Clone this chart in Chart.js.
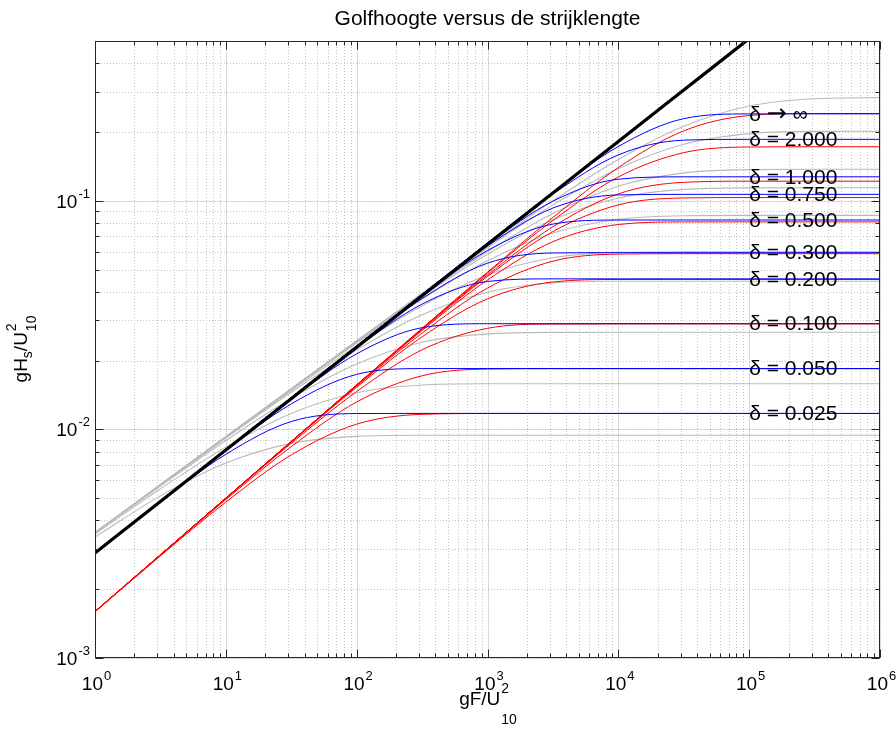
<!DOCTYPE html>
<html>
<head>
<meta charset="utf-8">
<script src="https://cdn.jsdelivr.net/npm/chart.js@4.4.1/dist/chart.umd.min.js"></script>
<style>
  body { margin: 0; background: #fff; }
  canvas { display: block; }
</style>
</head>
<body>
<canvas id="golfChart" width="896" height="733"></canvas>
<script>
// dimensionless fetch gF/U10^2 (half-decade steps)
const fetchX = [1, 3.162, 10, 31.62, 100, 316.2, 1000, 3162, 10000, 31620, 100000, 316200, 1000000];

const deltaLabels = ["δ → ∞", "δ = 2.000", "δ = 1.000", "δ = 0.750", "δ = 0.500",
  "δ = 0.300", "δ = 0.200", "δ = 0.100", "δ = 0.050", "δ = 0.025"];

// black line (deep water, straight)
const heightKahma = [0.00288, 0.00484, 0.00812, 0.01363, 0.02288, 0.0384, 0.0645, 0.1082, 0.1817, 0.305, 0.512, 0.860, 1.443];

// blue curves, one row per delta
const heightBreugem = [
  [0.00289, 0.00486, 0.00818, 0.01377, 0.02317, 0.03897, 0.06545, 0.1090, 0.1728, 0.2287, 0.2399, 0.2400, 0.2400],
  [0.00289, 0.00486, 0.00818, 0.01377, 0.02316, 0.03895, 0.06526, 0.1070, 0.1588, 0.1842, 0.1857, 0.1857, 0.1857],
  [0.00289, 0.00486, 0.00818, 0.01377, 0.02315, 0.03886, 0.0644, 0.0996, 0.1243, 0.1273, 0.1273, 0.1273, 0.1273],
  [0.00289, 0.00486, 0.00818, 0.01377, 0.02314, 0.03876, 0.06343, 0.09295, 0.1061, 0.1067, 0.1067, 0.1067, 0.1067],
  [0.00289, 0.00486, 0.00818, 0.01376, 0.02311, 0.03845, 0.06062, 0.07908, 0.08238, 0.0824, 0.0824, 0.0824, 0.0824],
  [0.00289, 0.00486, 0.00818, 0.01375, 0.02300, 0.03738, 0.05335, 0.05912, 0.0593, 0.0593, 0.0593, 0.0593, 0.0593],
  [0.00289, 0.00486, 0.00818, 0.01373, 0.02276, 0.03533, 0.04437, 0.04555, 0.04555, 0.04555, 0.04555, 0.04555, 0.04555],
  [0.00289, 0.00486, 0.00816, 0.01358, 0.02141, 0.02786, 0.02899, 0.0290, 0.0290, 0.0290, 0.0290, 0.0290, 0.0290],
  [0.00289, 0.004854, 0.008093, 0.012923, 0.01741, 0.018447, 0.01846, 0.01846, 0.01846, 0.01846, 0.01846, 0.01846, 0.01846],
  [0.002886, 0.004821, 0.00778, 0.010826, 0.011731, 0.01175, 0.01175, 0.01175, 0.01175, 0.01175, 0.01175, 0.01175, 0.01175]
];

// red curves
const heightYoung = [
  [0.001597, 0.002827, 0.005004, 0.008856, 0.015669, 0.027692, 0.04875, 0.08454, 0.13976, 0.20227, 0.23607, 0.24092, 0.241],
  [0.001597, 0.002827, 0.005004, 0.008854, 0.015659, 0.027628, 0.0483, 0.08202, 0.12713, 0.16241, 0.17187, 0.17231, 0.17231],
  [0.001597, 0.002827, 0.005003, 0.008851, 0.015636, 0.027484, 0.04739, 0.07699, 0.10722, 0.12047, 0.12183, 0.12184, 0.12184],
  [0.001597, 0.002827, 0.005003, 0.008848, 0.015618, 0.027364, 0.04667, 0.07336, 0.09594, 0.10289, 0.1033, 0.1033, 0.1033],
  [0.001597, 0.002827, 0.005002, 0.008841, 0.015573, 0.027082, 0.04503, 0.06625, 0.07875, 0.08082, 0.08086, 0.08086, 0.08086],
  [0.001597, 0.002826, 0.004999, 0.008824, 0.015463, 0.02638, 0.04152, 0.05443, 0.05846, 0.0587, 0.0587, 0.0587, 0.0587],
  [0.001597, 0.002826, 0.004995, 0.008797, 0.01529, 0.0254, 0.03726, 0.04415, 0.04526, 0.04528, 0.04528, 0.04528, 0.04528],
  [0.001596, 0.002823, 0.004979, 0.008692, 0.01465, 0.02229, 0.02768, 0.02889, 0.02893, 0.02893, 0.02893, 0.02893, 0.02893],
  [0.001595, 0.002816, 0.004933, 0.008406, 0.013181, 0.017165, 0.018363, 0.01843, 0.01843, 0.01843, 0.01843, 0.01843, 0.01843],
  [0.001592, 0.002796, 0.004808, 0.00773, 0.010541, 0.011639, 0.011733, 0.011733, 0.011733, 0.011733, 0.011733, 0.011733, 0.011733]
];

// grey curves
const heightSPM = [
  [0.003537, 0.005736, 0.009302, 0.015076, 0.024413, 0.039432, 0.063283, 0.099913, 0.15164, 0.21192, 0.25968, 0.27958, 0.28286],
  [0.003537, 0.005735, 0.009298, 0.015062, 0.024354, 0.039184, 0.062271, 0.095961, 0.13822, 0.17672, 0.19672, 0.2012, 0.20151],
  [0.003537, 0.005734, 0.009291, 0.01503, 0.024218, 0.038621, 0.06004, 0.08806, 0.11584, 0.13241, 0.13694, 0.13735, 0.13736],
  [0.003536, 0.005732, 0.009284, 0.015003, 0.024105, 0.038161, 0.058307, 0.082533, 0.102896, 0.1122, 0.11394, 0.11403, 0.11403],
  [0.003536, 0.005729, 0.009269, 0.01494, 0.02384, 0.037114, 0.054612, 0.072222, 0.082995, 0.086051, 0.08634, 0.08635, 0.08635],
  [0.003533, 0.00572, 0.00923, 0.014778, 0.023194, 0.034744, 0.047384, 0.056324, 0.059462, 0.059867, 0.05988, 0.05988, 0.05988],
  [0.00353, 0.005706, 0.009172, 0.014538, 0.022272, 0.031696, 0.039822, 0.043683, 0.044446, 0.04449, 0.04449, 0.04449, 0.04449],
  [0.003517, 0.00565, 0.008942, 0.013655, 0.019308, 0.024035, 0.026177, 0.026573, 0.026594, 0.026594, 0.026594, 0.026594, 0.026594],
  [0.00348, 0.005499, 0.008364, 0.011738, 0.014463, 0.015633, 0.015834, 0.015843, 0.015843, 0.015843, 0.015843, 0.015843, 0.015843],
  [0.00338, 0.00512, 0.007127, 0.008689, 0.009322, 0.009422, 0.009426, 0.009426, 0.009426, 0.009426, 0.009426, 0.009426, 0.009426]
];

const labelAtX = 100000;
const xRange = [1, 1000000];
const yRange = [0.001, 0.5];

const FONT = "'Liberation Sans', Arial, Helvetica, sans-serif";

function toPoints(ys) {
  return fetchX.map((x, i) => ({ x: x, y: ys[i] }));
}

function curve(label, ys, color, width) {
  return {
    label: label,
    data: toPoints(ys),
    borderColor: color,
    borderWidth: width,
    pointRadius: 0,
    fill: false,
    cubicInterpolationMode: "monotone"
  };
}

// dataset 0 is painted last (on top)
const datasets = [curve("Kahma", heightKahma, "#000000", 3.2)];
heightBreugem.forEach((ys, i) => datasets.push(curve("blauw " + deltaLabels[i], ys, "#0000ff", 1)));
heightYoung.forEach((ys, i) => datasets.push(curve("rood " + deltaLabels[i], ys, "#ff0000", 1)));
heightSPM.forEach((ys, i) => datasets.push(curve("grijs " + deltaLabels[i], ys, "#bababa", 1.1)));

function decadeValues(lo, hi) {
  const out = [];
  for (let e = Math.round(Math.log10(lo)); e < Math.round(Math.log10(hi)) + 1; e++) {
    for (let m = 1; m <= 9; m++) {
      const v = m * Math.pow(10, e);
      if (v >= lo * 0.999 && v <= hi * 1.001) out.push({ v: v, major: m === 1, e: e });
    }
  }
  return out;
}

function drawPower(ctx, exp, x, y, align) {
  ctx.font = "19px " + FONT;
  const wBase = ctx.measureText("10").width;
  ctx.font = "13px " + FONT;
  const wExp = ctx.measureText(String(exp)).width;
  let start = x;
  if (align === "center") start = x - (wBase + wExp) / 2;
  if (align === "right") start = x - wBase - wExp;
  ctx.textAlign = "left";
  ctx.textBaseline = "alphabetic";
  ctx.font = "19px " + FONT;
  ctx.fillText("10", start, y);
  ctx.font = "13px " + FONT;
  ctx.fillText(String(exp), start + wBase + 1, y - 10);
}

// draws "δ → ∞" with a longer arrow glyph
function drawDeltaLabel(ctx, lab, x, y) {
  if (lab.indexOf("→") < 0) {
    ctx.fillText(lab, x, y);
    return;
  }
  const parts = lab.split("→");
  ctx.fillText(parts[0], x, y);
  let px = x + ctx.measureText(parts[0]).width;
  const keep = ctx.font;
  ctx.font = "24px 'DejaVu Sans', sans-serif";
  ctx.fillText("→", px, y);
  px += ctx.measureText("→").width;
  ctx.font = keep;
  ctx.fillText(parts[1], px, y);
}

const decor = {
  id: "decor",
  beforeDatasetsDraw(chart) {
    const { ctx, chartArea: a, scales } = chart;
    ctx.save();
    ctx.lineWidth = 1;
    decadeValues(xRange[0], xRange[1]).forEach(t => {
      const px = Math.round(scales.x.getPixelForValue(t.v)) + 0.5;
      if (t.major) {
        ctx.strokeStyle = "#e2e2e2";
        ctx.setLineDash([]);
        ctx.beginPath(); ctx.moveTo(px, a.top); ctx.lineTo(px, a.bottom); ctx.stroke();
      }
      ctx.strokeStyle = "#c4c4c4";
      ctx.setLineDash([1, 2]);
      ctx.beginPath(); ctx.moveTo(px, a.top); ctx.lineTo(px, a.bottom); ctx.stroke();
    });
    decadeValues(yRange[0], yRange[1]).forEach(t => {
      const py = Math.round(scales.y.getPixelForValue(t.v)) + 0.5;
      if (t.major) {
        ctx.strokeStyle = "#e2e2e2";
        ctx.setLineDash([]);
        ctx.beginPath(); ctx.moveTo(a.left, py); ctx.lineTo(a.right, py); ctx.stroke();
      }
      ctx.strokeStyle = "#c4c4c4";
      ctx.setLineDash([1, 2]);
      ctx.beginPath(); ctx.moveTo(a.left, py); ctx.lineTo(a.right, py); ctx.stroke();
    });
    ctx.restore();
  },
  afterDatasetsDraw(chart) {
    const { ctx, chartArea: a, scales } = chart;
    ctx.save();
    ctx.setLineDash([]);

    // delta labels on the blue plateaus
    ctx.fillStyle = "#000";
    ctx.font = "21px " + FONT;
    ctx.textAlign = "left";
    ctx.textBaseline = "middle";
    deltaLabels.forEach((lab, i) => {
      const row = heightBreugem[i];
      drawDeltaLabel(ctx, lab, scales.x.getPixelForValue(labelAtX), scales.y.getPixelForValue(row[row.length - 1]) + 1);
    });

    // box and inward ticks
    ctx.strokeStyle = "#262626";
    ctx.lineWidth = 1;
    const L = Math.round(a.left) + 0.5, R = Math.round(a.right) - 0.5;
    const T = Math.round(a.top) + 0.5, B = Math.round(a.bottom) - 0.5;
    ctx.strokeRect(L, T, R - L, B - T);
    ctx.beginPath();
    decadeValues(xRange[0], xRange[1]).forEach(t => {
      const px = Math.round(scales.x.getPixelForValue(t.v)) + 0.5;
      const len = t.major ? 8 : 4;
      ctx.moveTo(px, B); ctx.lineTo(px, B - len);
      ctx.moveTo(px, T); ctx.lineTo(px, T + len);
    });
    decadeValues(yRange[0], yRange[1]).forEach(t => {
      const py = Math.round(scales.y.getPixelForValue(t.v)) + 0.5;
      const len = t.major ? 8 : 4;
      ctx.moveTo(L, py); ctx.lineTo(L + len, py);
      ctx.moveTo(R, py); ctx.lineTo(R - len, py);
    });
    ctx.stroke();

    // tick labels
    ctx.fillStyle = "#000";
    decadeValues(xRange[0], xRange[1]).filter(t => t.major).forEach(t => {
      drawPower(ctx, t.e, scales.x.getPixelForValue(t.v) + 1, a.bottom + 32, "center");
    });
    decadeValues(yRange[0], yRange[1]).filter(t => t.major).forEach(t => {
      drawPower(ctx, t.e, a.left - 6, scales.y.getPixelForValue(t.v) + 7, "right");
    });

    // title
    const cx = (a.left + a.right) / 2;
    ctx.font = "21px " + FONT;
    ctx.textAlign = "center";
    ctx.textBaseline = "alphabetic";
    ctx.fillText("Golfhoogte versus de strijklengte", cx, 25);

    // x axis title: gF/U^2_10
    ctx.font = "19px " + FONT;
    const wMain = ctx.measureText("gF/U").width;
    ctx.font = "14px " + FONT;
    const wSub = ctx.measureText("10").width;
    const x0 = cx - (wMain + wSub) / 2;
    ctx.textAlign = "left";
    ctx.font = "19px " + FONT;
    ctx.fillText("gF/U", x0, 705);
    ctx.font = "14px " + FONT;
    ctx.fillText("2", x0 + wMain + 1, 693);
    ctx.fillText("10", x0 + wMain + 1, 724);

    // y axis title: gH_s/U^2_10 (rotated)
    ctx.translate(27, (a.top + a.bottom) / 2);
    ctx.rotate(-Math.PI / 2);
    ctx.font = "19px " + FONT;
    const wg = ctx.measureText("gH").width;
    const wsl = ctx.measureText("/U").width;
    ctx.font = "14px " + FONT;
    const ws = ctx.measureText("s").width;
    const total = wg + ws + wsl + wSub;
    let yx = -total / 2;
    ctx.font = "19px " + FONT;
    ctx.fillText("gH", yx, 0);
    yx += wg;
    ctx.font = "14px " + FONT;
    ctx.fillText("s", yx, 5);
    yx += ws;
    ctx.font = "19px " + FONT;
    ctx.fillText("/U", yx, 0);
    yx += wsl;
    ctx.font = "14px " + FONT;
    ctx.fillText("2", yx + 1, -11);
    ctx.fillText("10", yx + 1, 9);
    ctx.restore();
  }
};

new Chart(document.getElementById("golfChart").getContext("2d"), {
  type: "line",
  data: { datasets: datasets },
  options: {
    responsive: false,
    animation: false,
    devicePixelRatio: 1,
    layout: { padding: { left: 95, right: 16, top: 41, bottom: 75 } },
    plugins: { legend: { display: false }, tooltip: { enabled: false } },
    scales: {
      x: {
        type: "logarithmic",
        display: false,
        min: xRange[0],
        max: xRange[1]
      },
      y: {
        type: "logarithmic",
        display: false,
        min: yRange[0],
        max: yRange[1]
      }
    }
  },
  plugins: [decor]
});
</script>
</body>
</html>
